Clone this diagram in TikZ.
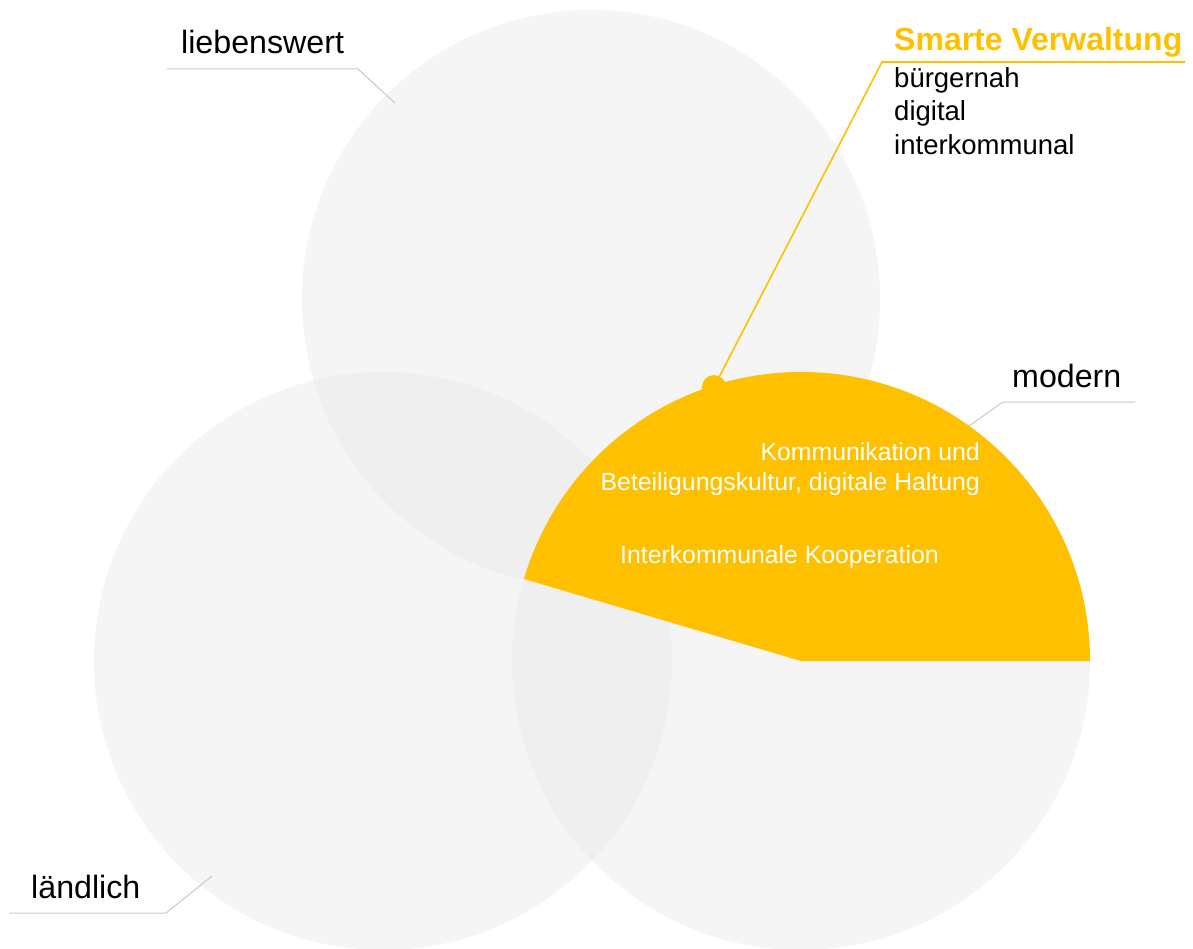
\documentclass[tikz,border=0pt]{standalone}
\usepackage{fontspec}
\setmainfont{Liberation Sans}
\usepackage{tikz}
\usetikzlibrary{calc}
\definecolor{kreis}{HTML}{F5F5F5}
\definecolor{schnitt}{HTML}{EFEFEF}
\definecolor{gelb}{HTML}{FFC000}
\definecolor{linie}{HTML}{C8C8C8}

\begin{document}
\begin{tikzpicture}[x=1pt,y=-1pt,
	titel/.style={anchor=base west,inner sep=0pt,font=\fontsize{32.2}{38}\selectfont},
	punktliste/.style={anchor=base west,inner sep=0pt,font=\fontsize{27.5}{33.5}\selectfont,align=left},
	innen/.style={inner sep=0pt,text=white,font=\fontsize{24.8}{30}\selectfont},
	fuehrung/.style={draw=linie,line width=1pt}]
	
	\useasboundingbox (0,0) rectangle (1193,949);
	
	%Kreise
	\foreach \n/\x/\y in {oben/591/299,links/383/661,rechts/801/661}  {
		\coordinate (\n) at (\x,\y);
		\fill[kreis] (\n) circle [radius=289];
	}
	
	%Schnittflaechen
	\foreach \a/\b in {oben/links,oben/rechts,links/rechts}  {
		\begin{scope}
			\clip (\a) circle [radius=289];
			\fill[schnitt] (\b) circle [radius=289];
		\end{scope}
	}
	
	\node[titel] (liebenswert) at (181,54) {liebenswert};
	\node[titel] (modern) at (1012,387) {modern};
	\node[titel] (laendlich) at (31,898) {ländlich};
	
	\coordinate (l1) at (167,69);   \coordinate (l2) at (358,69);   \coordinate (l3) at (395,103);
	\coordinate (m1) at (1135,402); \coordinate (m2) at (1003,402); \coordinate (m3) at (966,428);
	\coordinate (d1) at (9,913);    \coordinate (d2) at (166,913);  \coordinate (d3) at (212,876);
	\draw[fuehrung] (l1) -- (l2) -- (l3);
	\draw[fuehrung] (m1) -- (m2) -- (m3);
	\draw[fuehrung] (d1) -- (d2) -- (d3);
	
	%Sektor
	\fill[gelb] (rechts) -- ++(289,0) arc [start angle=0, end angle=-163.5, radius=289] -- cycle;
	
	\coordinate (punkt) at (714,387);
	\coordinate (knick) at (882,62);
	\coordinate (ende) at (1185,62);
	\fill[gelb] (punkt) circle [radius=12];
	\draw[gelb,line width=1.6pt] (punkt) -- (knick) -- (ende);
	
	\node[titel,text=gelb,font=\fontsize{32}{38}\selectfont\bfseries] (smart) at (894,51) {Smarte Verwaltung};
	\node[punktliste] (buerger) at (894,88) {bürgernah};
	\node[punktliste] (digital) at (894,121) {digital};
	\node[punktliste] (inter) at (894,155) {interkommunal};
	
	\node[innen,anchor=base east] (komm) at (980,460) {Kommunikation und};
	\node[innen,anchor=base east] (beteil) at (980,490) {Beteiligungskultur, digitale Haltung};
	\node[innen,anchor=base west] (koop) at (620,563) {Interkommunale Kooperation};
	
\end{tikzpicture}
\end{document}
